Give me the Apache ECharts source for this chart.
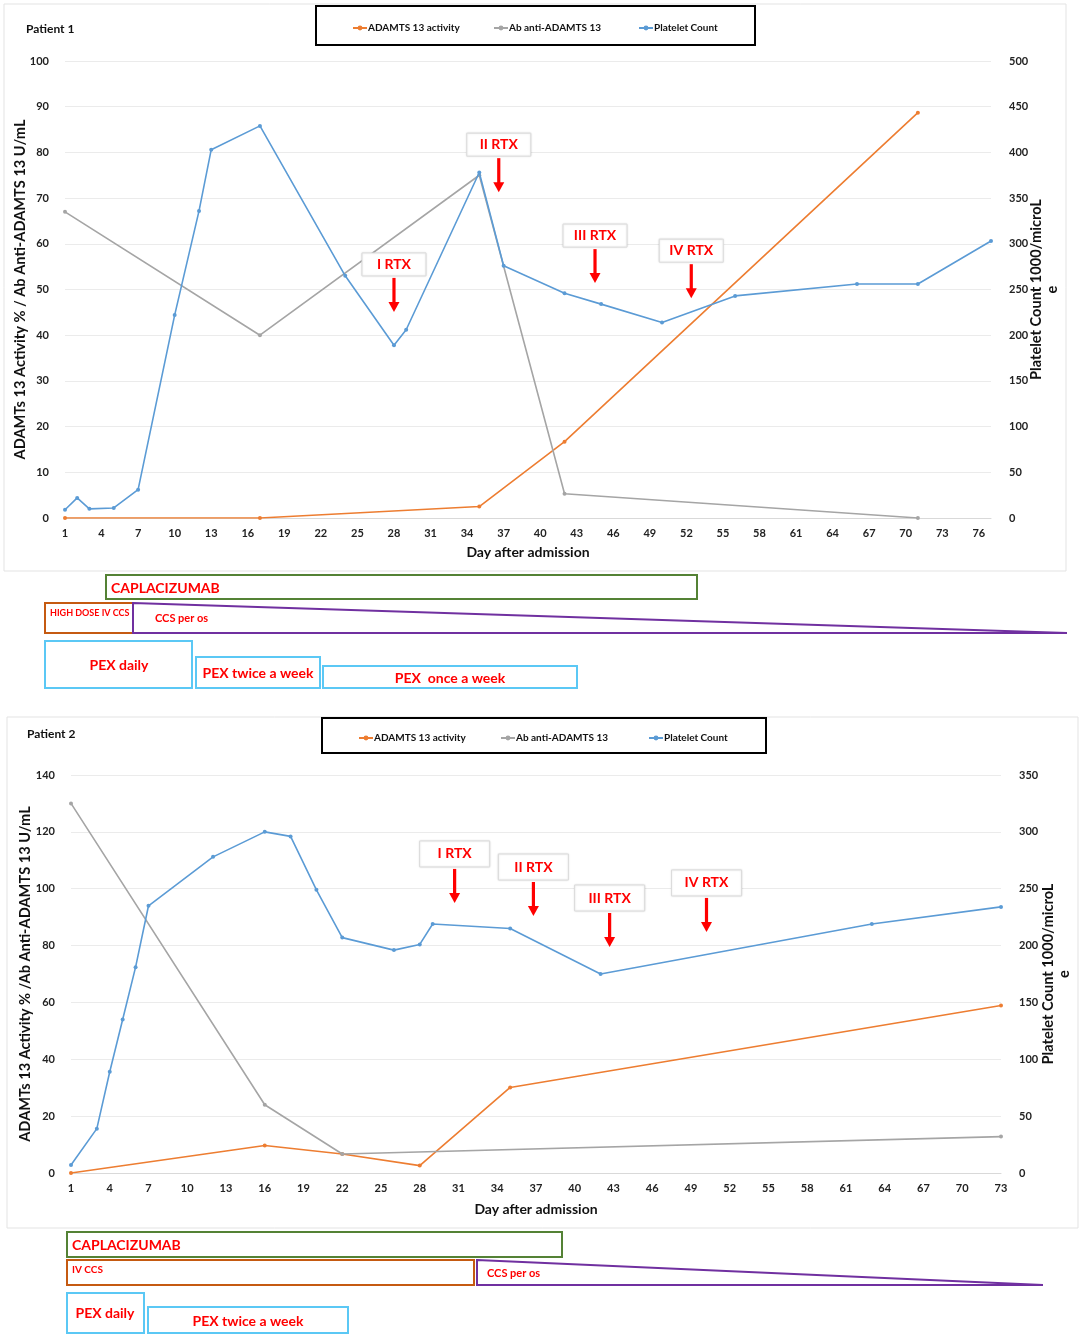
<!DOCTYPE html>
<html><head><meta charset="utf-8">
<script src="https://cdn.jsdelivr.net/npm/echarts@6/dist/echarts.min.js"></script>
<style>html,body{margin:0;padding:0;background:#fff}#c{width:1083px;height:1339px}</style>
</head><body><div id="c"></div>
<script>
// ---------- data ----------
const seriesNames = ['ADAMTS 13 activity', 'Ab anti-ADAMTS 13', 'Platelet Count'];

// Patient 1
const p1ActivityDays = [1, 17, 35, 42, 71];
const p1Activity     = [0, 0, 2.5, 16.7, 88.7];
const p1AbDays       = [1, 17, 35, 42, 71];
const p1Ab           = [67, 40, 75, 5.3, 0];
const p1PlateletDays = [1, 2, 3, 5, 7, 10, 12, 13, 17, 24, 28, 29, 35, 37, 42, 45, 50, 56, 66, 71, 77];
const p1Platelet     = [9, 22, 10, 11, 31, 222, 336, 403, 429, 265, 189, 206, 378, 276, 246, 234, 214, 243, 256, 256, 303];
const p1RtxLabels    = ['I RTX', 'II RTX', 'III RTX', 'IV RTX'];
const p1RtxDays      = [28, 36.6, 44.5, 52.4];
const p1RtxLevel     = [45.1, 71.3, 51.4, 48.1];

// Patient 2
const p2ActivityDays = [1, 16, 22, 28, 35, 73];
const p2Activity     = [0, 9.7, 6.7, 2.6, 30.1, 58.9];
const p2AbDays       = [1, 16, 22, 73];
const p2Ab           = [130, 24, 6.7, 12.8];
const p2PlateletDays = [1, 3, 4, 5, 6, 7, 12, 16, 18, 20, 22, 26, 28, 29, 35, 42, 63, 73];
const p2Platelet     = [7, 39, 89, 135, 181, 235, 278, 300, 296, 249, 207, 196, 201, 219, 215, 175, 219, 234];
const p2RtxLabels    = ['I RTX', 'II RTX', 'III RTX', 'IV RTX'];
const p2RtxDays      = [30.7, 36.8, 42.7, 50.2];
const p2RtxLevel     = [95.0, 90.4, 79.5, 84.8];

// ---------- helpers ----------
const pairs = (d, v) => d.map((x, i) => [x, v[i]]);
const COLORS = ['#ED7D31', '#A5A5A5', '#5B9BD5'];
const FONT = 'Lato';
const RED = '#FF0000';

function lineSeries(idx, grid, yIdx, data) {
  return {
    type: 'line', name: seriesNames[idx], xAxisIndex: grid, yAxisIndex: yIdx,
    data: data, symbol: 'circle', symbolSize: 4, showSymbol: true,
    lineStyle: { width: 1.6, color: COLORS[idx] },
    itemStyle: { color: COLORS[idx] },
    emphasis: { disabled: true }, z: 3 + idx
  };
}

function rtxSeries(grid, yIdx, days, levels, labels, boxW, boxH) {
  return {
    type: 'custom', xAxisIndex: grid, yAxisIndex: yIdx, silent: true, z: 10,
    data: pairs(days, levels),
    renderItem: function (params, api) {
      const p = api.coord([api.value(0), api.value(1)]);
      const x = p[0], y = p[1];
      const arrowLen = 34, gap = 2;
      const boxBottom = y - arrowLen - gap;
      return {
        type: 'group',
        children: [
          { type: 'rect', shape: { x: x - boxW / 2, y: boxBottom - boxH, width: boxW, height: boxH },
            style: { fill: '#fff', stroke: '#dcdcdc', lineWidth: 1, shadowBlur: 2, shadowColor: 'rgba(0,0,0,0.12)' } },
          { type: 'text', style: { text: labels[params.dataIndex], x: x, y: boxBottom - boxH / 2,
            align: 'center', verticalAlign: 'middle', fill: RED, font: 'bold 14px ' + FONT } },
          { type: 'rect', shape: { x: x - 1.6, y: y - arrowLen, width: 3.2, height: arrowLen - 8 },
            style: { fill: RED } },
          { type: 'polygon', shape: { points: [[x - 5.5, y - 10], [x + 5.5, y - 10], [x, y]] },
            style: { fill: RED } }
        ]
      };
    }
  };
}

const labelStyle = { fontFamily: FONT, fontWeight: 'bold', fontSize: 11, color: '#222' };
const nameStyle = { fontFamily: FONT, fontWeight: 'bold', fontSize: 14.6, color: '#111' };

function xAxis(grid, max, lastLabel, gap) {
  return {
    type: 'value', gridIndex: grid, min: 1, max: max, interval: 3,
    axisLabel: Object.assign({ margin: 10, formatter: v => (v > lastLabel ? '' : v) }, labelStyle),
    axisTick: { show: false }, splitLine: { show: false },
    axisLine: { lineStyle: { color: '#d9d9d9', width: 1 } },
    name: 'Day after admission', nameLocation: 'middle', nameGap: gap,
    nameTextStyle: Object.assign({}, nameStyle, { fontSize: 14 }),
    nameMoveOverlap: false
  };
}
function yLeft(grid, max, interval, name, gap) {
  return {
    type: 'value', gridIndex: grid, min: 0, max: max, interval: interval, position: 'left',
    axisLabel: Object.assign({ margin: 16 }, labelStyle),
    axisTick: { show: false }, axisLine: { show: false },
    splitLine: { lineStyle: { color: '#ebebeb', width: 1 } },
    name: name, nameLocation: 'middle', nameRotate: 90, nameGap: gap, nameTextStyle: nameStyle,
    nameMoveOverlap: false
  };
}
function yRight(grid, max, interval, gap) {
  return {
    type: 'value', gridIndex: grid, min: 0, max: max, interval: interval, position: 'right',
    axisLabel: Object.assign({ margin: 18 }, labelStyle),
    axisTick: { show: false }, axisLine: { show: false }, splitLine: { show: false },
    name: 'Platelet Count 1000/microL\ne', nameLocation: 'middle', nameRotate: 90, nameGap: gap,
    nameTextStyle: Object.assign({ lineHeight: 16 }, nameStyle),
    nameMoveOverlap: false
  };
}
function legend(name, left, top) {
  return { data: [name], left: left, top: top, itemWidth: 14, itemHeight: 6, padding: 0,
    textStyle: { fontFamily: FONT, fontWeight: 'bold', fontSize: 10, color: '#111', padding: [0, 0, 0, -4] }, selectedMode: false };
}
function box(x, y, w, h, color) {
  return { type: 'rect', shape: { x: x, y: y, width: w, height: h }, style: { fill: 'none', stroke: color, lineWidth: 2 } };
}
function txt(s, x, y, size, align) {
  return { type: 'text', x: x, y: y, style: { text: s, font: 'bold ' + size + 'px ' + FONT, fill: RED,
    align: align || 'left', verticalAlign: 'middle' } };
}

const GREEN = '#548235', ORANGE_B = '#C55A11', PURPLE = '#7030A0', CYAN = '#5BC8F5';

const option = {
  animation: false,
  textStyle: { fontFamily: FONT },
  grid: [
    { left: 65, top: 61, width: 926, height: 457, outerBoundsMode: 'none', containLabel: false },
    { left: 71, top: 775, width: 930, height: 398, outerBoundsMode: 'none', containLabel: false }
  ],
  xAxis: [xAxis(0, 77, 76, 27), xAxis(1, 73, 73, 29)],
  yAxis: [
    yLeft(0, 100, 10, 'ADAMTs 13 Activity % / Ab Anti-ADAMTS 13 U/mL', 37),
    yRight(0, 500, 50, 37),
    yLeft(1, 140, 20, 'ADAMTs 13 Activity % /Ab Anti-ADAMTS 13 U/mL', 38),
    yRight(1, 350, 50, 39)
  ],
  legend: [
    legend(seriesNames[0], 352, 23), legend(seriesNames[1], 493, 23), legend(seriesNames[2], 638, 23),
    legend(seriesNames[0], 358, 733), legend(seriesNames[1], 500, 733), legend(seriesNames[2], 648, 733)
  ],
  series: [
    lineSeries(0, 0, 0, pairs(p1ActivityDays, p1Activity)),
    lineSeries(1, 0, 0, pairs(p1AbDays, p1Ab)),
    lineSeries(2, 0, 1, pairs(p1PlateletDays, p1Platelet)),
    rtxSeries(0, 0, p1RtxDays, p1RtxLevel, p1RtxLabels, 64, 23),
    lineSeries(0, 1, 2, pairs(p2ActivityDays, p2Activity)),
    lineSeries(1, 1, 2, pairs(p2AbDays, p2Ab)),
    lineSeries(2, 1, 3, pairs(p2PlateletDays, p2Platelet)),
    rtxSeries(1, 2, p2RtxDays, p2RtxLevel, p2RtxLabels, 70, 26)
  ],
  graphic: [
    // panel frames
    { type: 'rect', z: -1, shape: { x: 4, y: 4, width: 1062, height: 567 }, style: { fill: 'none', stroke: '#e3e3e3', lineWidth: 1 } },
    { type: 'rect', z: -1, shape: { x: 7, y: 717, width: 1071, height: 511 }, style: { fill: 'none', stroke: '#e3e3e3', lineWidth: 1 } },
    // titles
    { type: 'text', x: 26, y: 29, style: { text: 'Patient 1', font: 'bold 12px ' + FONT, fill: '#111', verticalAlign: 'middle' } },
    { type: 'text', x: 27, y: 734, style: { text: 'Patient 2', font: 'bold 12px ' + FONT, fill: '#111', verticalAlign: 'middle' } },
    // legend frames
    { type: 'rect', shape: { x: 316, y: 6, width: 439, height: 39 }, style: { fill: 'none', stroke: '#000', lineWidth: 2 } },
    { type: 'rect', shape: { x: 322, y: 718, width: 444, height: 35 }, style: { fill: 'none', stroke: '#000', lineWidth: 2 } },
    // Patient 1 treatments
    box(106, 575, 591, 24, GREEN), txt('CAPLACIZUMAB', 111, 588, 14),
    box(45, 603, 88, 30, ORANGE_B), txt('HIGH DOSE IV CCS', 50, 613, 9),
    { type: 'polygon', shape: { points: [[133, 603], [1067, 633], [133, 633]] }, style: { fill: 'none', stroke: PURPLE, lineWidth: 2 } },
    txt('CCS per os', 155, 618, 11),
    box(45, 641, 147, 47, CYAN), txt('PEX daily', 119, 665, 14, 'center'),
    box(196, 657, 124, 31, CYAN), txt('PEX twice a week', 258, 673, 14, 'center'),
    box(323, 666, 254, 22, CYAN), txt('PEX  once a week', 450, 678, 14, 'center'),
    // Patient 2 treatments
    box(67, 1232, 495, 25, GREEN), txt('CAPLACIZUMAB', 72, 1245, 14),
    box(67, 1260, 407, 25, ORANGE_B), txt('IV CCS', 72, 1270, 10),
    { type: 'polygon', shape: { points: [[477, 1260], [1043, 1285], [477, 1285]] }, style: { fill: 'none', stroke: PURPLE, lineWidth: 2 } },
    txt('CCS per os', 487, 1273, 11),
    box(67, 1293, 77, 40, CYAN), txt('PEX daily', 105, 1313, 14, 'center'),
    box(148, 1307, 200, 26, CYAN), txt('PEX twice a week', 248, 1321, 14, 'center')
  ]
};

const chart = echarts.init(document.getElementById('c'), null, { renderer: 'canvas' });
chart.setOption(option);
</script>
</body></html>
